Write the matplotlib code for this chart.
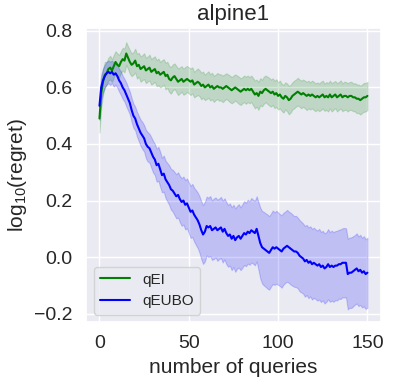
import matplotlib
matplotlib.use("Agg")
import matplotlib.pyplot as plt
import numpy as np
import seaborn as sns

sns.set_theme(style="darkgrid")
plt.rcParams["font.family"] = ["Liberation Sans", "DejaVu Sans"]
plt.rcParams["mathtext.fontset"] = "custom"
plt.rcParams["mathtext.rm"] = "Liberation Sans"
plt.rcParams["mathtext.it"] = "Liberation Sans:italic"

# log10(regret) per query, mean and half-width of the shaded band
qei_mean = [
    0.49, 0.58, 0.62, 0.645, 0.65, 0.665, 0.67, 0.66, 0.675, 0.69,
    0.68, 0.675, 0.69, 0.70, 0.695, 0.72, 0.705, 0.69, 0.68, 0.685,
    0.695, 0.675, 0.68, 0.665, 0.67, 0.675, 0.66, 0.665, 0.67, 0.655,
    0.66, 0.665, 0.65, 0.655, 0.645, 0.65, 0.655, 0.64, 0.645, 0.63,
    0.625, 0.635, 0.64, 0.63, 0.62, 0.625, 0.63, 0.62, 0.625, 0.63,
    0.625, 0.62, 0.625, 0.61, 0.615, 0.62, 0.615, 0.605, 0.61, 0.60,
    0.605, 0.61, 0.60, 0.605, 0.595, 0.60, 0.605, 0.60, 0.60, 0.595,
    0.60, 0.605, 0.60, 0.595, 0.59, 0.595, 0.60, 0.595, 0.59, 0.585,
    0.59, 0.595, 0.59, 0.595, 0.59, 0.595, 0.585, 0.575, 0.58, 0.57,
    0.585, 0.58, 0.59, 0.595, 0.59, 0.585, 0.58, 0.585, 0.575, 0.58,
    0.57, 0.575, 0.565, 0.56, 0.57, 0.565, 0.555, 0.56, 0.57, 0.575,
    0.58, 0.585, 0.58, 0.575, 0.58, 0.575, 0.57, 0.575, 0.57, 0.575,
    0.57, 0.565, 0.57, 0.565, 0.57, 0.575, 0.565, 0.57, 0.565, 0.575,
    0.565, 0.57, 0.575, 0.565, 0.57, 0.575, 0.565, 0.57, 0.57, 0.565,
    0.57, 0.57, 0.565, 0.565, 0.56, 0.56, 0.555, 0.56, 0.565, 0.565,
    0.57,
]
qei_hw = [
    0.05, 0.05, 0.045, 0.045, 0.04, 0.04, 0.042, 0.04, 0.04, 0.038,
    0.04, 0.04, 0.038, 0.04, 0.042, 0.04, 0.04, 0.042, 0.04, 0.04,
    0.042, 0.044, 0.042, 0.045, 0.044, 0.046, 0.045, 0.044, 0.046, 0.045,
    0.046, 0.045, 0.046, 0.047, 0.045, 0.046, 0.045, 0.047, 0.046, 0.046,
    0.047, 0.046, 0.045, 0.046, 0.047, 0.046, 0.045, 0.046, 0.047, 0.046,
    0.046, 0.047, 0.046, 0.045, 0.046, 0.047, 0.046, 0.047, 0.046, 0.045,
    0.046, 0.047, 0.046, 0.047, 0.046, 0.045, 0.046, 0.047, 0.046, 0.047,
    0.046, 0.045, 0.046, 0.047, 0.046, 0.047, 0.046, 0.047, 0.048, 0.047,
    0.046, 0.047, 0.048, 0.047, 0.046, 0.047, 0.048, 0.049, 0.048, 0.049,
    0.048, 0.047, 0.048, 0.047, 0.048, 0.049, 0.048, 0.047, 0.048, 0.049,
    0.048, 0.049, 0.048, 0.049, 0.048, 0.049, 0.05, 0.049, 0.048, 0.049,
    0.048, 0.049, 0.048, 0.049, 0.048, 0.049, 0.05, 0.049, 0.048, 0.049,
    0.05, 0.049, 0.048, 0.049, 0.05, 0.049, 0.048, 0.049, 0.05, 0.049,
    0.05, 0.049, 0.048, 0.05, 0.049, 0.05, 0.049, 0.05, 0.049, 0.05,
    0.049, 0.05, 0.049, 0.05, 0.051, 0.05, 0.051, 0.05, 0.051, 0.05,
    0.05,
]
qeubo_mean = [
    0.535, 0.60, 0.625, 0.64, 0.65, 0.655, 0.65, 0.655, 0.645, 0.65,
    0.64, 0.625, 0.615, 0.60, 0.59, 0.575, 0.56, 0.545, 0.52, 0.50,
    0.49, 0.47, 0.455, 0.44, 0.43, 0.42, 0.40, 0.39, 0.385, 0.37,
    0.355, 0.345, 0.325, 0.33, 0.31, 0.29, 0.295, 0.275, 0.265, 0.255,
    0.24, 0.235, 0.225, 0.215, 0.22, 0.205, 0.195, 0.20, 0.185, 0.19,
    0.175, 0.16, 0.165, 0.15, 0.14, 0.13, 0.115, 0.095, 0.08, 0.09,
    0.11, 0.105, 0.11, 0.095, 0.10, 0.105, 0.095, 0.10, 0.105, 0.09,
    0.10, 0.085, 0.075, 0.08, 0.065, 0.075, 0.06, 0.07, 0.075, 0.065,
    0.075, 0.085, 0.08, 0.09, 0.085, 0.095, 0.09, 0.085, 0.10, 0.075,
    0.05, 0.035, 0.03, 0.025, 0.02, 0.015, 0.025, 0.035, 0.03, 0.035,
    0.03, 0.025, 0.02, 0.03, 0.035, 0.04, 0.035, 0.03, 0.025, 0.02,
    0.02, 0.015, 0.005, 0.0, -0.005, -0.015, -0.01, -0.02, -0.015, -0.025,
    -0.02, -0.025, -0.03, -0.025, -0.035, -0.03, -0.04, -0.035, -0.025, -0.035,
    -0.03, -0.035, -0.03, -0.03, -0.025, -0.025, -0.02, -0.02, -0.02, -0.06,
    -0.055, -0.055, -0.05, -0.045, -0.04, -0.05, -0.045, -0.055, -0.05, -0.06,
    -0.055,
]
qeubo_hw = [
    0.05, 0.045, 0.042, 0.04, 0.04, 0.04, 0.041, 0.04, 0.042, 0.04,
    0.041, 0.04, 0.042, 0.041, 0.04, 0.042, 0.041, 0.04, 0.042, 0.043,
    0.042, 0.044, 0.045, 0.046, 0.048, 0.047, 0.05, 0.052, 0.051, 0.054,
    0.056, 0.055, 0.058, 0.06, 0.062, 0.061, 0.064, 0.066, 0.068, 0.07,
    0.072, 0.074, 0.076, 0.078, 0.08, 0.082, 0.084, 0.085, 0.087, 0.088,
    0.09, 0.092, 0.094, 0.095, 0.097, 0.098, 0.10, 0.102, 0.104, 0.105,
    0.104, 0.105, 0.106, 0.105, 0.107, 0.106, 0.108, 0.107, 0.108, 0.109,
    0.108, 0.11, 0.109, 0.11, 0.111, 0.11, 0.112, 0.111, 0.112, 0.111,
    0.112, 0.113, 0.112, 0.113, 0.112, 0.114, 0.113, 0.114, 0.115, 0.12,
    0.125, 0.128, 0.13, 0.13, 0.131, 0.13, 0.129, 0.13, 0.128, 0.129,
    0.128, 0.127, 0.128, 0.127, 0.126, 0.127, 0.126, 0.127, 0.126, 0.125,
    0.126, 0.125, 0.126, 0.125, 0.124, 0.125, 0.124, 0.125, 0.124, 0.125,
    0.124, 0.123, 0.124, 0.125, 0.124, 0.123, 0.124, 0.123, 0.124, 0.123,
    0.124, 0.123, 0.122, 0.123, 0.122, 0.123, 0.122, 0.123, 0.122, 0.125,
    0.124, 0.125, 0.124, 0.123, 0.124, 0.123, 0.124, 0.123, 0.124, 0.123,
    0.124,
]

series = [
    ("qEI", qei_mean, qei_hw, "green"),
    ("qEUBO", qeubo_mean, qeubo_hw, "blue"),
]

fig = plt.figure(figsize=(3.93, 3.84), dpi=100)
ax = fig.add_axes([0.219, 0.161, 0.75, 0.766])

for name, mean, hw, color in series:
    mean = np.asarray(mean)
    hw = np.asarray(hw)
    x = np.arange(len(mean))
    ax.plot(x, mean, color=color, lw=1.5, label=name)
    ax.fill_between(x, mean - hw, mean + hw, color=color, alpha=0.18, lw=0.8)

ax.set_ylim(-0.23, 0.81)
ax.set_xticks([0, 50, 100, 150])
ax.set_yticks([-0.2, 0.0, 0.2, 0.4, 0.6, 0.8])
ax.tick_params(labelsize=14)
ax.set_xlabel("number of queries", fontsize=15)
ax.set_ylabel(r"log$_{10}$(regret)", fontsize=15)
ax.set_title("alpine1", fontsize=16)
ax.legend(loc="lower left", fontsize=11)

fig.savefig("out.png", dpi=100)
